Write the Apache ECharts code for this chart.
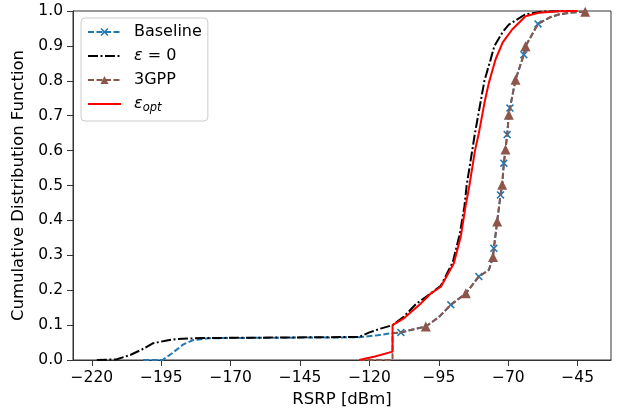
<!DOCTYPE html>
<html>
<head>
<meta charset="utf-8">
<script src="https://cdn.jsdelivr.net/npm/echarts@6/dist/echarts.min.js"></script>
<style>html,body{margin:0;padding:0;background:#fff}#c{width:622px;height:410px}</style>
</head>
<body>
<div id="c"></div>
<script>
// ---- data ----
const xTicks = [-220, -195, -170, -145, -120, -95, -70, -45];
const yTicks = [0, 0.1, 0.2, 0.3, 0.4, 0.5, 0.6, 0.7, 0.8, 0.9, 1.0];

// [x, y, marker(1)]
const baseline = [
  [-201.5,0,0],[-194.5,0,0],[-191,0.02,0],[-187,0.045,0],[-183.5,0.057,0],[-178,0.062,0],
  [-171.5,0.063,0],[-150,0.064,0],[-123.7,0.065,0],[-117,0.071,0],[-111.7,0.077,0],
  [-108.7,0.079,1],[-104,0.088,0],[-99.7,0.096,0],[-95,0.123,0],[-90.7,0.158,1],
  [-85.3,0.191,0],[-80.6,0.239,1],[-77,0.258,0],[-75.5,0.295,0],[-75.2,0.32,1],
  [-74,0.397,0],[-72.8,0.473,1],[-72.2,0.502,0],[-71.6,0.564,1],[-71,0.603,0],
  [-70.4,0.646,1],[-69.8,0.703,0],[-69.4,0.722,1],[-67.4,0.803,0],[-64.4,0.875,1],
  [-63.8,0.899,0],[-59.3,0.963,1],[-55,0.982,0],[-51.8,0.99,0],[-47,0.996,0],[-42.3,0.998,0]
];
const eps0 = [
  [-218.2,0],[-211,0.002],[-206,0.015],[-202,0.03],[-197.9,0.048],[-193,0.056],[-189.5,0.06],
  [-180,0.063],[-160,0.064],[-140,0.065],[-123.7,0.066],[-120,0.079],[-116,0.09],[-111.7,0.1],
  [-107.5,0.125],[-103.3,0.16],[-98,0.19],[-94.3,0.213],[-90,0.28],[-87.5,0.36],[-85.8,0.44],
  [-85,0.5],[-82,0.65],[-78.6,0.8],[-76.4,0.86],[-75,0.9],[-72,0.94],[-69.8,0.961],[-64,0.99],
  [-58,0.998],[-50,1.0],[-45,1.0]
];
const gpp3 = [
  [-123.7,0,0],[-111.7,0,0],[-111.7,0.077,0],[-108.7,0.079,0],[-104,0.088,0],[-99.7,0.096,1],
  [-95,0.123,0],[-90.7,0.158,0],[-85.3,0.191,1],[-80.6,0.239,0],[-77,0.258,0],[-75.5,0.295,1],
  [-75.2,0.32,0],[-74,0.397,1],[-72.8,0.473,0],[-72.2,0.502,1],[-71.6,0.564,0],
  [-71,0.603,1],[-70.4,0.646,0],[-69.8,0.703,1],[-69.4,0.722,0],[-67.4,0.803,1],
  [-64.4,0.875,0],[-63.8,0.899,1],[-59.3,0.963,0],[-55,0.982,0],[-51.8,0.99,0],
  [-47,0.996,0],[-42.3,0.998,1]
];
const epsOpt = [
  [-123.7,0],[-118,0.01],[-111.7,0.024],[-111.7,0.1],[-107.5,0.12],[-102,0.158],[-98,0.19],
  [-94.3,0.21],[-89.6,0.277],[-87.1,0.354],[-85.4,0.44],[-84,0.5],[-82,0.6],[-80.6,0.65],
  [-78.5,0.74],[-77,0.794],[-74.6,0.861],[-72,0.91],[-68.6,0.947],[-63.8,0.985],[-59,0.995],
  [-52,0.999],[-45,1.0]
];

const XSYM = 'path://M1.4,0 L5,3.6 L8.6,0 L10,1.4 L6.4,5 L10,8.6 L8.6,10 L5,6.4 L1.4,10 L0,8.6 L3.6,5 L0,1.4 Z';
const FONT = 'DejaVu Sans';
const minus = v => String(v).replace('-', '\u2212');

function marked(arr) {
  return arr.map(p => p[2] ? {value: [p[0], p[1]]} : {value: [p[0], p[1]], symbol: 'none'});
}

const chart = echarts.init(document.getElementById('c'), null, {renderer: 'canvas'});
chart.setOption({
  animation: false,
  backgroundColor: '#fff',
  textStyle: {fontFamily: FONT},
  grid: {left: 73, right: 11, top: 11, bottom: 50, containLabel: false, outerBoundsMode: 'none',
    show: true, borderColor: '#333', borderWidth: 1, backgroundColor: 'transparent'},
  xAxis: {
    type: 'value', min: -226.8, max: -33,
    name: 'RSRP [dBm]', nameLocation: 'middle', nameGap: 28,
    nameTextStyle: {fontSize: 16.5, color: '#000', fontFamily: FONT},
    axisLine: {show: true, onZero: false, lineStyle: {color: '#333', width: 1}},
    axisTick: {show: true, length: 6, inside: false, customValues: xTicks, lineStyle: {color: '#333'}},
    axisLabel: {customValues: xTicks, fontSize: 15.5, color: '#000', margin: 10, fontFamily: FONT, formatter: v => minus(v)},
    splitLine: {show: false}
  },
  yAxis: {
    type: 'value', min: 0, max: 1, interval: 0.1,
    name: 'Cumulative Distribution Function', nameLocation: 'middle', nameGap: 43,
    nameTextStyle: {fontSize: 16.5, color: '#000', fontFamily: FONT},
    axisLine: {show: true, onZero: false, lineStyle: {color: '#333', width: 1}},
    axisTick: {show: true, length: 6, inside: false, lineStyle: {color: '#333'}},
    axisLabel: {fontSize: 15.5, color: '#000', margin: 10, fontFamily: FONT, formatter: v => v.toFixed(1)},
    splitLine: {show: false}
  },
  legend: {
    orient: 'vertical', left: 81, top: 18,
    padding: [5, 6, 7, 6], itemGap: 6, itemWidth: 33, itemHeight: 10,
    backgroundColor: 'rgba(255,255,255,0.8)', borderColor: '#ccc', borderWidth: 1, borderRadius: 4,
    textStyle: {fontSize: 16, color: '#000', fontFamily: FONT, lineHeight: 18, padding: [0, 0, 0, 8],
      rich: {
        i: {fontSize: 16, fontStyle: 'italic', fontFamily: FONT},
        n: {fontSize: 16, fontFamily: FONT},
        sub: {fontSize: 11.5, fontStyle: 'italic', fontFamily: FONT, padding: [8, 0, 0, 0]}
      }},
    formatter: name => {
      if (name === 'eps0') return '{i|ε}{n| = 0}';
      if (name === 'epsopt') return '{i|ε}{sub|opt}';
      return name;
    },
    data: ['Baseline', {name: 'eps0', itemStyle: {opacity: 0}}, '3GPP', {name: 'epsopt', itemStyle: {opacity: 0}}]
  },
  series: [
    {
      name: 'Baseline', type: 'line', data: marked(baseline),
      symbol: XSYM, symbolSize: 8, showSymbol: true, showAllSymbol: true,
      itemStyle: {color: '#1f77b4'},
      lineStyle: {color: '#1f77b4', width: 2, type: [6, 2.5]}, z: 2
    },
    {
      name: 'eps0', type: 'line', data: eps0, symbol: 'circle', showSymbol: false,
      itemStyle: {color: '#000', opacity: 0},
      lineStyle: {color: '#000', width: 2, type: [10, 2.5, 2, 2.5]}, z: 3
    },
    {
      name: '3GPP', type: 'line', data: marked(gpp3),
      symbol: 'triangle', symbolSize: 10, showSymbol: true, showAllSymbol: true,
      itemStyle: {color: '#8c564b'},
      lineStyle: {color: '#8c564b', width: 2, type: [6, 2.5]}, z: 4
    },
    {
      name: 'epsopt', type: 'line', data: epsOpt, symbol: 'circle', showSymbol: false,
      itemStyle: {color: '#ff0000', opacity: 0},
      lineStyle: {color: '#ff0000', width: 2, type: 'solid'}, z: 5
    }
  ]
});
</script>
</body>
</html>
